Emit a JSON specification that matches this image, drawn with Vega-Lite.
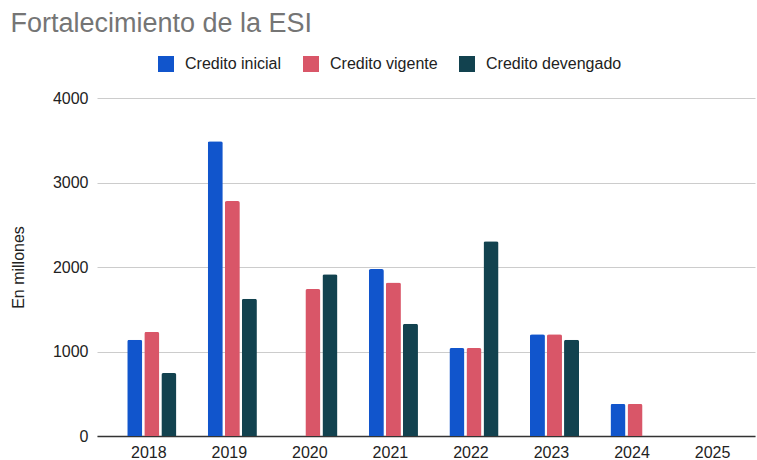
{
  "$schema": "https://vega.github.io/schema/vega-lite/v6.json",
  "width": 658,
  "height": 338,
  "autosize": {"type": "none"},
  "padding": {"left": 97, "top": 98, "right": 2, "bottom": 24},
  "background": "white",
  "title": {
    "text": "Fortalecimiento de la ESI",
    "anchor": "start",
    "frame": "bounds",
    "font": "Liberation Sans",
    "fontSize": 27,
    "fontWeight": "normal",
    "color": "#757575",
    "offset": 18
  },
  "data": {
    "values": [
      {"anio": "2018", "serie": "Credito inicial", "valor": 1138},
      {"anio": "2018", "serie": "Credito vigente", "valor": 1232},
      {"anio": "2018", "serie": "Credito devengado", "valor": 745},
      {"anio": "2019", "serie": "Credito inicial", "valor": 3488},
      {"anio": "2019", "serie": "Credito vigente", "valor": 2781},
      {"anio": "2019", "serie": "Credito devengado", "valor": 1625},
      {"anio": "2020", "serie": "Credito vigente", "valor": 1739},
      {"anio": "2020", "serie": "Credito devengado", "valor": 1913},
      {"anio": "2021", "serie": "Credito inicial", "valor": 1975},
      {"anio": "2021", "serie": "Credito vigente", "valor": 1818},
      {"anio": "2021", "serie": "Credito devengado", "valor": 1327},
      {"anio": "2022", "serie": "Credito inicial", "valor": 1040},
      {"anio": "2022", "serie": "Credito vigente", "valor": 1040},
      {"anio": "2022", "serie": "Credito devengado", "valor": 2305},
      {"anio": "2023", "serie": "Credito inicial", "valor": 1205},
      {"anio": "2023", "serie": "Credito vigente", "valor": 1205},
      {"anio": "2023", "serie": "Credito devengado", "valor": 1138},
      {"anio": "2024", "serie": "Credito inicial", "valor": 380},
      {"anio": "2024", "serie": "Credito vigente", "valor": 380}
    ]
  },
  "mark": {"type": "bar", "cornerRadiusTopLeft": 2, "cornerRadiusTopRight": 2},
  "encoding": {
    "x": {
      "field": "anio",
      "type": "nominal",
      "scale": {
        "domain": ["2018", "2019", "2020", "2021", "2022", "2023", "2024", "2025"],
        "paddingInner": 0.39,
        "paddingOuter": 0.28,
        "align": 0.67
      },
      "axis": {
        "title": null,
        "labelAngle": 0,
        "labelOffset": -3,
        "ticks": false,
        "domainColor": "#333333",
        "domainWidth": 1.5,
        "labelFont": "Liberation Sans",
        "labelFontSize": 16,
        "labelColor": "#222222",
        "labelPadding": 8,
        "grid": false
      }
    },
    "xOffset": {
      "field": "serie",
      "type": "nominal",
      "scale": {
        "domain": ["Credito inicial", "Credito vigente", "Credito devengado"],
        "paddingInner": 0.12
      }
    },
    "y": {
      "field": "valor",
      "type": "quantitative",
      "scale": {"domain": [0, 4000], "nice": false},
      "axis": {
        "title": "En millones",
        "titleFont": "Liberation Sans",
        "titleFontSize": 16,
        "titleFontWeight": "normal",
        "titleColor": "#222222",
        "titlePadding": 26,
        "values": [0, 1000, 2000, 3000, 4000],
        "format": "d",
        "domain": false,
        "ticks": false,
        "labelFont": "Liberation Sans",
        "labelFontSize": 16,
        "labelColor": "#222222",
        "labelPadding": 9,
        "gridColor": "#cccccc"
      }
    },
    "color": {
      "field": "serie",
      "type": "nominal",
      "scale": {
        "domain": ["Credito inicial", "Credito vigente", "Credito devengado"],
        "range": ["#1155cc", "#d95668", "#12424f"]
      },
      "legend": {
        "title": null,
        "orient": "none",
        "direction": "horizontal",
        "legendX": 61,
        "legendY": -42,
        "symbolType": "square",
        "symbolSize": 256,
        "symbolStrokeWidth": 0,
        "symbolOpacity": 1,
        "labelFont": "Liberation Sans",
        "labelFontSize": 16,
        "labelColor": "#222222",
        "labelOffset": 11,
        "columnPadding": 21,
        "padding": 0
      }
    }
  },
  "config": {"view": {"stroke": null}}
}
